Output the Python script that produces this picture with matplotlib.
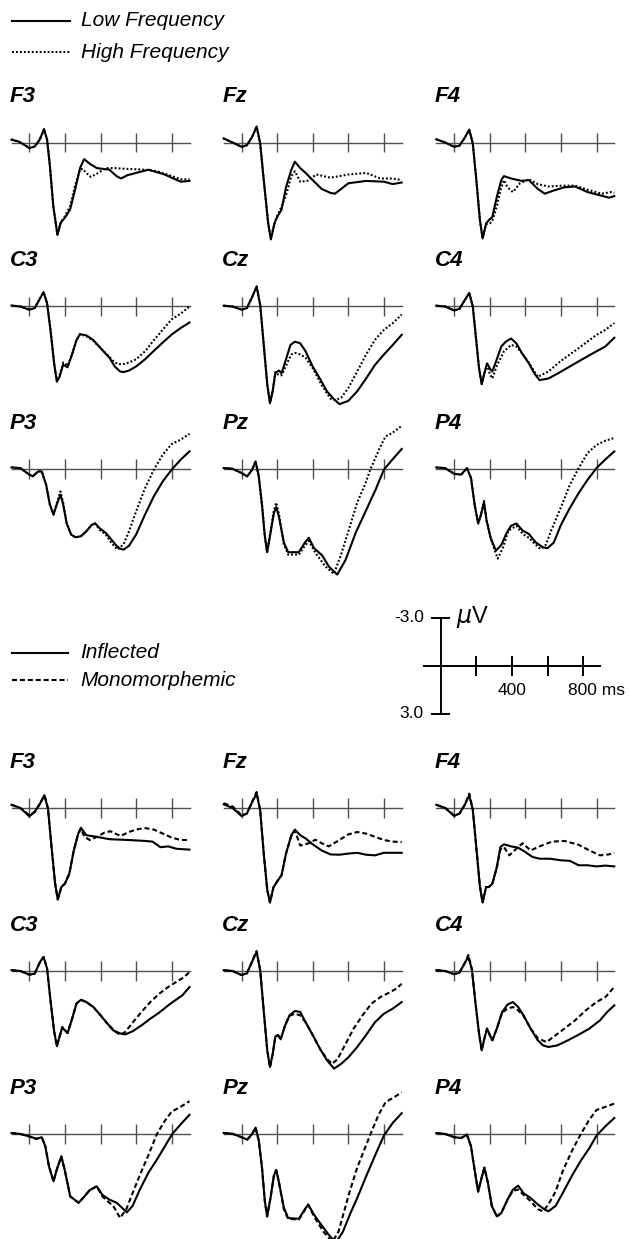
import matplotlib
matplotlib.use('Agg')
import matplotlib.pyplot as plt

plt.rcParams['font.family'] = ['Liberation Sans', 'DejaVu Sans']

# ---- data: (time in ms, amplitude in microvolts), negative plotted up ----
# upper half: word frequency
freq_F3_low = [(-100,-0.17),(-60,-0.06),(-20,0.2),(0,0.35),(30,0.25),(58,-0.17),(83,-0.83),(100,-0.17),(116,1.5),(135,4.0),(158,5.77),(177,5.0),(200,4.7),(229,4.2),(257,2.96),(285,1.6),(308,1.04),(342,1.35),(380,1.6),(450,1.7),(490,2.1),(515,2.25),(550,2.05),(600,1.9),(670,1.7),(760,2.0),(850,2.45),(900,2.4)]
freq_F3_high = [(-100,-0.2),(-60,-0.06),(-20,0.2),(0,0.35),(30,0.25),(58,-0.17),(83,-0.83),(100,-0.17),(116,1.5),(135,4.0),(158,5.75),(177,5.0),(200,4.6),(229,4.0),(257,2.7),(285,1.7),(300,1.65),(320,1.9),(345,2.15),(380,1.95),(430,1.6),(480,1.6),(550,1.65),(650,1.7),(720,1.8),(800,2.1),(850,2.3),(900,2.3)]
freq_Fz_low = [(-100,-0.25),(-50,0.0),(0,0.27),(30,0.17),(60,-0.35),(85,-1.0),(105,0.06),(125,2.35),(150,5.06),(165,6.06),(185,5.06),(200,4.65),(225,4.2),(250,2.8),(280,1.7),(300,1.2),(330,1.6),(360,1.9),(400,2.35),(450,2.9),(500,3.15),(525,3.2),(560,2.9),(600,2.55),(700,2.4),(800,2.45),(850,2.6),(900,2.5)]
freq_Fz_high = [(-100,-0.25),(-50,0.0),(0,0.27),(30,0.17),(60,-0.35),(85,-1.0),(105,0.06),(125,2.35),(150,5.06),(165,6.0),(185,5.1),(200,4.6),(225,4.0),(250,3.3),(280,2.1),(300,1.8),(330,2.45),(370,2.4),(420,2.0),(500,2.2),(600,2.0),(700,1.9),(780,2.25),(850,2.25),(900,2.35)]
freq_F4_low = [(-100,-0.2),(-50,0.0),(0,0.27),(30,0.2),(60,-0.3),(85,-0.8),(105,0.06),(125,2.35),(145,4.85),(160,6.0),(180,5.06),(195,4.85),(215,4.65),(240,3.4),(265,2.35),(280,2.1),(320,2.25),(380,2.4),(420,2.35),(470,2.9),(510,3.2),(560,3.0),(620,2.8),(680,2.75),(750,3.1),(820,3.3),(870,3.45),(900,3.35)]
freq_F4_high = [(-100,-0.2),(-50,0.0),(0,0.27),(30,0.2),(60,-0.3),(85,-0.8),(105,0.06),(125,2.35),(145,4.85),(160,5.95),(180,5.1),(200,5.06),(215,4.9),(240,4.0),(260,3.0),(280,2.35),(300,2.8),(330,3.1),(370,2.55),(420,2.3),(470,2.6),(530,2.75),(600,2.7),(680,2.7),(750,2.95),(830,3.2),(880,3.1),(900,3.15)]
freq_C3_low = [(-100,-0.06),(-50,0.0),(0,0.2),(30,0.1),(60,-0.5),(80,-0.9),(100,-0.2),(120,1.56),(140,3.6),(155,4.7),(170,4.4),(190,3.65),(200,3.7),(215,3.8),(240,3.0),(265,2.1),(285,1.73),(320,1.8),(360,2.1),(400,2.6),(450,3.2),(480,3.75),(510,4.06),(530,4.1),(560,4.0),(600,3.75),(650,3.3),(700,2.77),(750,2.25),(800,1.75),(850,1.35),(900,1.0)]
freq_C3_high = [(-100,-0.06),(-50,0.0),(0,0.2),(30,0.1),(60,-0.5),(80,-0.9),(100,-0.2),(120,1.56),(140,3.6),(155,4.65),(170,4.3),(190,3.5),(200,3.55),(215,3.7),(240,3.0),(265,2.1),(285,1.73),(320,1.85),(360,2.15),(400,2.6),(450,3.15),(480,3.5),(500,3.6),(530,3.6),(560,3.5),(600,3.3),(650,2.8),(700,2.1),(750,1.45),(800,0.8),(850,0.45),(900,0.0)]
freq_Cz_low = [(-100,-0.05),(-50,0.0),(0,0.2),(30,0.1),(60,-0.6),(85,-1.25),(105,-0.1),(125,2.4),(145,4.9),(160,6.05),(175,5.3),(190,4.17),(210,4.0),(225,4.17),(250,3.3),(275,2.4),(300,2.2),(330,2.3),(360,2.8),(400,3.75),(440,4.5),(480,5.3),(520,5.8),(550,6.1),(600,5.9),(650,5.3),(700,4.5),(750,3.65),(800,3.0),(850,2.4),(900,1.77)]
freq_Cz_high = [(-100,-0.05),(-50,0.0),(0,0.2),(30,0.1),(60,-0.6),(85,-1.25),(105,-0.1),(125,2.4),(145,4.9),(160,6.0),(175,5.3),(190,4.1),(210,4.3),(225,4.3),(250,3.7),(280,3.0),(300,2.9),(330,3.0),(360,3.2),(400,3.85),(450,4.9),(500,5.77),(530,5.85),(560,5.7),(600,5.1),(650,4.06),(700,3.0),(750,2.08),(800,1.46),(850,1.04),(900,0.5)]
freq_C4_low = [(-100,-0.05),(-50,0.0),(0,0.25),(30,0.15),(60,-0.4),(85,-0.85),(105,0.0),(125,2.2),(140,3.85),(155,4.85),(170,4.17),(185,3.55),(205,3.95),(215,4.06),(240,3.3),(265,2.5),(290,2.2),(320,2.0),(350,2.3),(380,2.9),(420,3.55),(450,4.17),(480,4.6),(530,4.5),(580,4.2),(650,3.75),(720,3.3),(800,2.8),(850,2.5),(900,1.95)]
freq_C4_high = [(-100,-0.05),(-50,0.0),(0,0.25),(30,0.15),(60,-0.4),(85,-0.85),(105,0.0),(125,2.2),(140,3.85),(155,4.85),(170,4.2),(185,3.65),(200,4.2),(215,4.5),(240,3.7),(280,2.8),(320,2.4),(350,2.5),(380,2.9),(420,3.5),(470,4.4),(530,4.06),(600,3.4),(700,2.6),(800,1.77),(850,1.46),(900,1.04)]
freq_P3_low = [(-100,-0.1),(-50,-0.05),(0,0.35),(20,0.45),(50,0.15),(70,0.15),(95,1.0),(115,2.2),(136,2.85),(155,2.2),(175,1.6),(190,2.2),(210,3.4),(235,4.1),(260,4.27),(290,4.2),(320,3.9),(350,3.5),(370,3.4),(395,3.7),(430,4.0),(460,4.4),(490,4.8),(510,4.98),(530,5.04),(560,4.8),(600,4.1),(650,2.85),(700,1.7),(750,0.77),(800,0.04),(850,-0.58),(900,-1.1)]
freq_P3_high = [(-100,-0.1),(-50,-0.05),(0,0.35),(20,0.45),(50,0.15),(70,0.15),(95,1.0),(115,2.2),(136,2.85),(155,2.1),(175,1.4),(190,2.1),(210,3.4),(235,4.1),(260,4.27),(290,4.2),(320,3.9),(350,3.5),(370,3.4),(395,3.8),(430,4.1),(460,4.6),(495,5.04),(530,4.7),(560,3.9),(600,2.65),(650,1.2),(700,0.04),(750,-0.9),(800,-1.56),(850,-1.83),(900,-2.2)]
freq_Pz_low = [(-100,-0.06),(-52,-0.02),(0,0.25),(32,0.46),(60,0.04),(79,-0.48),(97,0.46),(116,2.33),(131,4.2),(144,5.2),(163,4.0),(182,2.75),(195,2.38),(210,2.96),(238,4.6),(262,5.2),(322,5.2),(356,4.6),(378,4.3),(407,4.94),(453,5.4),(491,6.1),(538,6.6),(585,5.67),(641,4.0),(697,2.65),(753,1.3),(800,0.04),(847,-0.58),(900,-1.25)]
freq_Pz_high = [(-100,-0.06),(-52,-0.02),(0,0.25),(32,0.46),(60,0.04),(79,-0.48),(97,0.46),(116,2.33),(131,4.2),(144,5.2),(163,3.9),(182,2.6),(195,2.1),(210,2.8),(238,4.7),(262,5.35),(322,5.35),(356,4.8),(378,4.5),(416,5.25),(472,6.1),(519,6.55),(556,5.46),(603,3.8),(650,2.1),(697,0.88),(725,0.0),(772,-1.2),(809,-2.04),(847,-2.25),(900,-2.7)]
freq_P4_low = [(-100,-0.1),(-50,-0.05),(0,0.3),(40,0.35),(72,-0.06),(95,0.56),(115,2.2),(135,3.4),(150,2.9),(168,2.1),(182,3.2),(205,4.3),(235,5.1),(265,4.75),(295,4.0),(320,3.55),(350,3.4),(385,3.85),(420,4.06),(460,4.6),(500,4.9),(525,4.95),(560,4.6),(600,3.5),(650,2.44),(700,1.5),(750,0.67),(800,-0.06),(850,-0.6),(900,-1.1)]
freq_P4_high = [(-100,-0.1),(-50,-0.05),(0,0.3),(40,0.35),(72,-0.06),(95,0.56),(115,2.2),(135,3.4),(150,2.9),(168,2.0),(182,3.2),(210,4.5),(245,5.6),(275,4.9),(305,3.85),(350,3.55),(385,4.06),(420,4.3),(455,4.7),(485,5.0),(515,4.75),(545,3.85),(600,2.4),(650,1.0),(700,-0.06),(750,-1.0),(800,-1.5),(850,-1.77),(900,-1.94)]

# lower half: morphological type
morph_F3_infl = [(-100,-0.2),(-50,0.0),(0,0.52),(30,0.25),(60,-0.27),(85,-0.8),(105,0.04),(125,2.44),(145,4.73),(160,5.73),(180,4.94),(200,4.73),(225,4.1),(250,2.65),(275,1.6),(290,1.23),(320,1.7),(378,1.8),(450,1.95),(557,2.0),(640,2.05),(692,2.1),(737,2.45),(780,2.4),(827,2.55),(900,2.6)]
morph_F3_mono = [(-100,-0.2),(-50,0.0),(0,0.45),(30,0.25),(60,-0.27),(85,-0.8),(105,0.04),(125,2.44),(145,4.73),(160,5.7),(180,4.94),(200,4.73),(225,4.1),(250,2.65),(275,1.6),(290,1.3),(310,1.8),(340,2.0),(380,1.8),(420,1.55),(456,1.45),(512,1.75),(560,1.5),(600,1.35),(647,1.25),(700,1.35),(750,1.6),(800,1.85),(850,2.0),(900,2.0)]
morph_Fz_infl = [(-100,-0.23),(-50,0.0),(0,0.5),(30,0.35),(60,-0.37),(85,-0.9),(105,0.15),(125,2.85),(145,5.15),(160,5.9),(180,4.94),(200,4.6),(225,4.2),(250,2.85),(280,1.7),(300,1.35),(330,1.7),(360,1.9),(400,2.27),(450,2.65),(500,2.9),(550,2.92),(600,2.85),(650,2.8),(700,2.92),(750,2.96),(800,2.8),(850,2.8),(900,2.8)]
morph_Fz_mono = [(-100,-0.3),(-50,-0.1),(0,0.45),(30,0.35),(60,-0.4),(85,-1.0),(105,0.15),(125,2.85),(145,5.15),(160,5.9),(180,4.94),(200,4.6),(225,4.2),(250,2.85),(280,1.75),(300,1.4),(330,2.35),(380,2.2),(415,1.98),(450,2.2),(490,2.4),(550,2.0),(600,1.65),(650,1.5),(700,1.6),(750,1.8),(800,2.0),(850,2.1),(900,2.13)]
morph_F4_infl = [(-100,-0.2),(-50,0.0),(0,0.5),(30,0.35),(60,-0.2),(85,-0.8),(105,0.1),(125,2.5),(145,4.9),(160,5.9),(180,4.94),(195,4.94),(215,4.73),(240,3.7),(260,2.44),(280,2.27),(320,2.4),(360,2.48),(400,2.75),(440,3.06),(480,3.17),(540,3.17),(600,3.27),(650,3.3),(700,3.58),(750,3.58),(800,3.65),(850,3.6),(900,3.65)]
morph_F4_mono = [(-100,-0.2),(-50,0.0),(0,0.45),(30,0.35),(60,-0.2),(85,-0.9),(105,0.1),(125,2.5),(145,4.9),(160,5.9),(180,4.94),(195,4.94),(215,4.73),(240,3.7),(260,2.6),(280,2.44),(310,2.96),(360,2.44),(385,2.2),(430,2.65),(480,2.4),(550,2.1),(620,2.06),(700,2.3),(760,2.65),(820,2.96),(870,2.9),(900,2.8)]
morph_C3_infl = [(-100,-0.05),(-50,0.0),(0,0.23),(30,0.17),(60,-0.56),(80,-0.88),(100,-0.15),(120,1.94),(140,3.8),(155,4.7),(170,4.1),(185,3.56),(200,3.7),(215,3.88),(240,3.0),(265,2.04),(290,1.8),(320,1.94),(360,2.25),(400,2.77),(440,3.3),(470,3.7),(510,3.9),(540,3.96),(580,3.77),(630,3.4),(680,2.98),(730,2.6),(780,2.15),(820,1.83),(860,1.52),(900,1.0)]
morph_C3_mono = [(-100,-0.05),(-50,0.0),(0,0.23),(30,0.17),(60,-0.56),(80,-0.88),(100,-0.15),(120,1.94),(140,3.8),(155,4.7),(170,4.1),(185,3.5),(200,3.7),(215,3.88),(240,3.0),(265,2.04),(290,1.8),(320,1.94),(360,2.25),(400,2.77),(440,3.3),(480,3.77),(512,4.0),(540,3.8),(580,3.23),(630,2.56),(680,1.94),(730,1.42),(780,1.0),(830,0.65),(870,0.38),(900,0.06)]
morph_Cz_infl = [(-100,-0.05),(-50,0.0),(0,0.25),(30,0.15),(60,-0.6),(85,-1.2),(105,-0.05),(125,2.5),(145,5.0),(160,6.0),(175,5.2),(190,4.1),(205,4.0),(220,4.27),(245,3.4),(270,2.77),(300,2.5),(330,2.56),(360,3.2),(400,4.0),(440,4.85),(480,5.58),(520,6.1),(560,5.8),(600,5.4),(650,4.75),(700,4.0),(750,3.2),(800,2.67),(850,2.35),(900,1.94)]
morph_Cz_mono = [(-100,-0.05),(-50,0.0),(0,0.25),(30,0.15),(60,-0.6),(85,-1.25),(105,-0.05),(125,2.5),(145,5.0),(160,6.0),(175,5.2),(190,4.1),(205,4.0),(220,4.27),(245,3.4),(270,2.8),(300,2.67),(330,2.77),(360,3.2),(400,4.0),(440,4.85),(480,5.5),(510,5.8),(540,5.5),(580,4.65),(630,3.6),(680,2.77),(730,2.04),(780,1.63),(830,1.35),(870,1.1),(900,0.8)]
morph_C4_infl = [(-100,-0.05),(-50,0.0),(0,0.2),(30,0.1),(60,-0.5),(80,-0.88),(100,-0.1),(120,2.0),(140,3.9),(155,4.96),(170,4.23),(185,3.6),(205,4.12),(215,4.33),(240,3.6),(270,2.56),(300,2.1),(330,1.94),(360,2.25),(390,2.77),(430,3.6),(470,4.33),(500,4.65),(530,4.75),(580,4.65),(640,4.33),(700,3.98),(760,3.6),(820,3.08),(860,2.56),(900,2.15)]
morph_C4_mono = [(-100,-0.05),(-50,0.0),(0,0.2),(30,0.1),(60,-0.5),(80,-1.0),(100,-0.1),(120,2.0),(140,3.9),(155,4.96),(170,4.23),(185,3.6),(205,4.12),(215,4.33),(240,3.6),(270,2.6),(300,2.35),(330,2.25),(360,2.46),(390,2.8),(430,3.6),(470,4.2),(500,4.35),(520,4.44),(560,4.1),(620,3.6),(680,3.08),(740,2.46),(800,1.94),(850,1.63),(900,1.0)]
morph_P3_infl = [(-100,-0.06),(-50,0.0),(0,0.15),(40,0.3),(70,0.2),(90,0.77),(110,2.0),(136,2.96),(155,2.2),(180,1.4),(200,2.3),(230,3.9),(277,4.3),(310,3.9),(340,3.5),(379,3.27),(410,3.8),(450,4.1),(491,4.3),(548,4.9),(580,4.5),(620,3.5),(670,2.4),(717,1.6),(760,0.8),(803,0.0),(850,-0.6),(900,-1.2)]
morph_P3_mono = [(-100,-0.06),(-50,0.0),(0,0.15),(40,0.3),(70,0.2),(90,0.77),(110,2.0),(136,2.96),(155,2.2),(180,1.4),(200,2.3),(230,3.9),(277,4.3),(310,3.9),(340,3.5),(379,3.27),(410,3.9),(440,4.2),(472,4.5),(510,5.25),(545,4.7),(580,3.7),(620,2.6),(670,1.3),(717,0.0),(760,-0.8),(800,-1.4),(850,-1.7),(900,-2.05)]
morph_Pz_infl = [(-100,-0.06),(-52,-0.02),(0,0.2),(32,0.35),(60,0.0),(79,-0.4),(97,0.4),(116,2.2),(131,4.2),(144,5.15),(163,4.0),(182,2.6),(195,2.25),(210,3.0),(238,4.6),(262,5.25),(322,5.3),(356,4.7),(375,4.4),(405,5.0),(450,5.7),(490,6.3),(530,6.8),(570,6.1),(610,5.0),(650,4.0),(700,2.65),(750,1.35),(800,0.1),(850,-0.7),(900,-1.3)]
morph_Pz_mono = [(-100,-0.06),(-52,-0.02),(0,0.2),(32,0.35),(60,0.0),(79,-0.4),(97,0.4),(116,2.2),(131,4.2),(144,5.15),(163,4.0),(182,2.6),(195,2.25),(210,3.0),(238,4.7),(262,5.3),(322,5.35),(356,4.75),(375,4.45),(410,5.2),(460,6.1),(510,6.75),(545,6.1),(575,4.9),(605,3.7),(650,2.1),(700,0.7),(725,0.0),(770,-1.2),(810,-2.0),(850,-2.25),(900,-2.6)]
morph_P4_infl = [(-100,-0.06),(-50,0.0),(0,0.2),(40,0.25),(72,0.04),(95,0.77),(115,2.23),(135,3.6),(152,2.85),(170,2.1),(190,3.06),(212,4.5),(240,5.15),(265,4.94),(300,4.1),(330,3.48),(360,3.23),(390,3.7),(430,4.0),(470,4.4),(510,4.73),(530,4.83),(570,4.5),(610,3.7),(660,2.65),(710,1.7),(760,0.88),(800,0.1),(850,-0.48),(900,-1.0)]
morph_P4_mono = [(-100,-0.06),(-50,0.0),(0,0.2),(40,0.25),(72,0.04),(95,0.77),(115,2.23),(135,3.6),(152,2.85),(170,2.1),(190,3.06),(212,4.5),(240,5.15),(265,4.94),(300,4.1),(330,3.55),(360,3.48),(390,3.8),(430,4.2),(470,4.7),(500,4.83),(530,4.4),(570,3.6),(610,2.33),(660,1.1),(710,0.04),(760,-0.9),(800,-1.5),(850,-1.7),(900,-1.9)]

electrodes = [['F3', 'Fz', 'F4'], ['C3', 'Cz', 'C4'], ['P3', 'Pz', 'P4']]
tick_times = [0, 200, 400, 600, 800]

freq_low = {'F3': freq_F3_low, 'Fz': freq_Fz_low, 'F4': freq_F4_low,
            'C3': freq_C3_low, 'Cz': freq_Cz_low, 'C4': freq_C4_low,
            'P3': freq_P3_low, 'Pz': freq_Pz_low, 'P4': freq_P4_low}
freq_high = {'F3': freq_F3_high, 'Fz': freq_Fz_high, 'F4': freq_F4_high,
             'C3': freq_C3_high, 'Cz': freq_Cz_high, 'C4': freq_C4_high,
             'P3': freq_P3_high, 'Pz': freq_Pz_high, 'P4': freq_P4_high}
morph_infl = {'F3': morph_F3_infl, 'Fz': morph_Fz_infl, 'F4': morph_F4_infl,
              'C3': morph_C3_infl, 'Cz': morph_Cz_infl, 'C4': morph_C4_infl,
              'P3': morph_P3_infl, 'Pz': morph_Pz_infl, 'P4': morph_P4_infl}
morph_mono = {'F3': morph_F3_mono, 'Fz': morph_Fz_mono, 'F4': morph_F4_mono,
              'C3': morph_C3_mono, 'Cz': morph_Cz_mono, 'C4': morph_C4_mono,
              'P3': morph_P3_mono, 'Pz': morph_Pz_mono, 'P4': morph_P4_mono}

# ---- layout (pixels) ----
W, H = 629, 1239
PX_MS = 35.6 / 200.0
PX_UV = 16.0
T0, T1 = -100, 900
V_TOP, V_BOT = -3.6, 7.4
col_x0 = [29.3, 241.5, 454.1]
top_base = [142.5, 306.5, 469.0]
bot_base = [808.0, 971.0, 1134.0]

DOTTED = (0, (0.9, 1.0))
DASHED = (0, (2.4, 1.4))
AXIS_COL = '#505050'
LW = 1.5

fig = plt.figure(figsize=(W / 100, H / 100), dpi=100)

overlay = fig.add_axes([0, 0, 1, 1])
overlay.set_xlim(0, W)
overlay.set_ylim(H, 0)
overlay.axis('off')


def add_panel(x0, base):
    left = x0 + T0 * PX_MS
    width = (T1 - T0) * PX_MS
    top = base + V_TOP * PX_UV
    height = (V_BOT - V_TOP) * PX_UV
    ax = fig.add_axes([left / W, 1 - (top + height) / H, width / W, height / H])
    ax.set_xlim(T0, T1)
    ax.set_ylim(V_BOT, V_TOP)
    ax.axis('off')
    return ax


def draw_half(bases, solid, other, style):
    for r in range(3):
        for c in range(3):
            name = electrodes[r][c]
            ax = add_panel(col_x0[c], bases[r])
            ax.plot([T0, T1], [0, 0], color=AXIS_COL, lw=1.0, clip_on=False)
            ax.vlines(tick_times, -0.62, 0.62, color=AXIS_COL, lw=1.0)
            t, v = zip(*other[name])
            ax.plot(t, v, color='black', lw=LW, ls=style, clip_on=False)
            t, v = zip(*solid[name])
            ax.plot(t, v, color='black', lw=LW, clip_on=False)
            ax.text(T0 - 8, -2.85, name, fontsize=16, fontweight='bold',
                    fontstyle='italic', ha='left', va='center')


draw_half(top_base, freq_low, freq_high, DOTTED)
draw_half(bot_base, morph_infl, morph_mono, DASHED)

# legends
overlay.plot([12, 70], [21, 21], color='black', lw=LW)
overlay.plot([12, 70], [52, 52], color='black', lw=LW, ls=DOTTED)
overlay.text(81, 21, 'Low Frequency', fontsize=15, fontstyle='italic', va='center')
overlay.text(81, 52, 'High Frequency', fontsize=15, fontstyle='italic', va='center')
overlay.plot([12, 68], [653, 653], color='black', lw=LW)
overlay.plot([12, 68], [680, 680], color='black', lw=LW, ls=DASHED)
overlay.text(80, 653, 'Inflected', fontsize=15, fontstyle='italic', va='center')
overlay.text(80, 680, 'Monomorphemic', fontsize=15, fontstyle='italic', va='center')

# calibration
cal = add_panel(440.7, 666.0)
cal.plot([T0, T1], [0, 0], color='black', lw=1.4)
cal.plot([0, 0], [-3, 3], color='black', lw=1.4)
cal.hlines([-3, 3], -52, 52, color='black', lw=1.4)
cal.vlines([200, 400, 600, 800], -0.62, 0.62, color='black', lw=1.4)
cal.text(-95, -3, '-3.0', fontsize=12.5, ha='right', va='center')
cal.text(-95, 3, '3.0', fontsize=12.5, ha='right', va='center')
cal.text(85, -3.05, r'$\mu$V', fontsize=17, ha='left', va='center')
cal.text(400, 1.55, '400', fontsize=12.5, ha='center', va='center')
cal.text(717, 1.55, '800 ms', fontsize=12.5, ha='left', va='center')

fig.savefig('out.png', dpi=100)
